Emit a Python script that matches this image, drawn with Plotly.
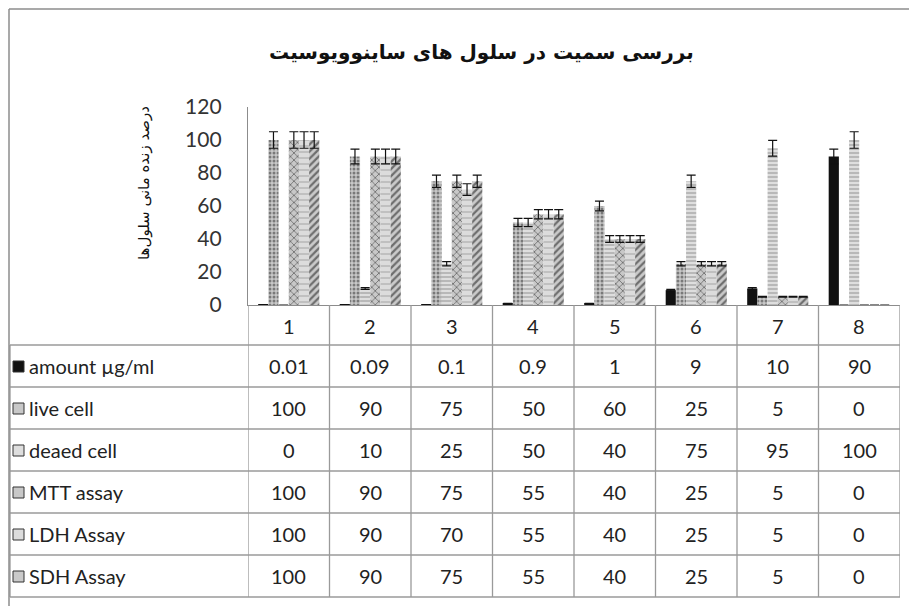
import plotly.graph_objects as go

categories = [1, 2, 3, 4, 5, 6, 7, 8]
series_names = ["amount µg/ml", "live cell", "deaed cell", "MTT assay", "LDH Assay", "SDH Assay"]
amount = [0.01, 0.09, 0.1, 0.9, 1, 9, 10, 90]
live_cell = [100, 90, 75, 50, 60, 25, 5, 0]
dead_cell = [0, 10, 25, 50, 40, 75, 95, 100]
mtt_assay = [100, 90, 75, 55, 40, 25, 5, 0]
ldh_assay = [100, 90, 70, 55, 40, 25, 5, 0]
sdh_assay = [100, 90, 75, 55, 40, 25, 5, 0]
amount_labels = ["0.01", "0.09", "0.1", "0.9", "1", "9", "10", "90"]
y_ticks = [0, 20, 40, 60, 80, 100, 120]
title_text = "بررسی سمیت در سلول های ساینوویوسیت"
y_title = "درصد زنده مانی سلول‌ها"

series_values = [amount, live_cell, dead_cell, mtt_assay, ldh_assay, sdh_assay]
styles = [
    dict(color="#111111", pattern=dict(shape="")),
    dict(color="#c8c8c8", pattern=dict(shape=".", fgcolor="#2a2a2a", size=4, solidity=0.45)),
    dict(color="#dedede", pattern=dict(shape="-", fgcolor="#6e6e6e", size=4, solidity=0.35)),
    dict(color="#c8c8c8", pattern=dict(shape="x", fgcolor="#111111", size=5, solidity=0.3)),
    dict(color="#dcdcdc", pattern=dict(shape="-", fgcolor="#808080", size=6, solidity=0.2)),
    dict(color="#cacaca", pattern=dict(shape="/", fgcolor="#111111", size=5, solidity=0.45)),
]

OFF = 8  # page body margin
W, H = 901, 598
L, R, T, B = 240, 9, 99, 301
PW = W - L - R
PH = H - T - B
FONT = "Lato, Open Sans, sans-serif"


def px_x(px):
    return (px - OFF - L) / PW


def px_y(py):
    return (H - B - (py - OFF)) / PH


fig = go.Figure()
for name, vals, st in zip(series_names, series_values, styles):
    fig.add_trace(go.Bar(
        x=categories, y=vals, name=name,
        marker=dict(color=st["color"], pattern=st["pattern"], line=dict(width=0)),
        error_y=dict(type="percent", value=5, color="#111111", thickness=1.2, width=4.5),
    ))

shapes = []
annotations = []
grid = "#9a9a9a"

row_lines = [345, 387, 429, 471, 513, 555, 597]
for py in row_lines:
    shapes.append(dict(type="line", xref="paper", yref="paper",
                       x0=px_x(10), x1=1, y0=px_y(py), y1=px_y(py),
                       line=dict(color=grid, width=1.3)))
shapes.append(dict(type="line", xref="paper", yref="paper",
                   x0=px_x(10), x1=px_x(10), y0=px_y(345), y1=px_y(597),
                   line=dict(color=grid, width=1.3)))
for k in range(len(categories) + 1):
    xv = 0.5 + k
    shapes.append(dict(type="line", xref="x", yref="paper",
                       x0=xv, x1=xv, y0=px_y(305), y1=px_y(597),
                       line=dict(color=grid, width=1.3)))
# outer chart border (left + top)
shapes.append(dict(type="line", xref="paper", yref="paper",
                   x0=px_x(9), x1=px_x(9), y0=px_y(9), y1=px_y(620),
                   line=dict(color="#8c8c8c", width=1.5)))
shapes.append(dict(type="line", xref="paper", yref="paper",
                   x0=px_x(9), x1=px_x(930), y0=px_y(9), y1=px_y(9),
                   line=dict(color="#8c8c8c", width=1.5)))

for c in categories:
    annotations.append(dict(x=c, y=px_y(326), xref="x", yref="paper", text=str(c),
                            xanchor="center", yanchor="middle", showarrow=False,
                            font=dict(size=20, color="#222", family=FONT)))

row_centers = [366, 408, 450, 492, 534, 576]
row_texts = [amount_labels] + [[str(v) for v in s] for s in series_values[1:]]
for r, (name, texts, st) in enumerate(zip(series_names, row_texts, styles)):
    yc = px_y(row_centers[r])
    annotations.append(dict(x=px_x(27), y=yc, xref="paper", yref="paper", text=name,
                            xanchor="left", yanchor="middle", showarrow=False,
                            font=dict(size=20, color="#222", family=FONT)))
    for c, t in zip(categories, texts):
        annotations.append(dict(x=c, y=yc, xref="x", yref="paper", text=t,
                                xanchor="center", yanchor="middle", showarrow=False,
                                font=dict(size=20, color="#222", family=FONT)))
    shapes.append(dict(type="rect", xref="paper", yref="paper",
                       x0=px_x(13), x1=px_x(24), y0=px_y(row_centers[r] - 5), y1=px_y(row_centers[r] + 6),
                       fillcolor=st["color"] if r > 0 else "#111111",
                       line=dict(color="#333333", width=1)))

annotations.append(dict(x=px_x(481), y=px_y(52), xref="paper", yref="paper",
                        text="<b>" + title_text + "</b>",
                        xanchor="center", yanchor="middle", showarrow=False,
                        font=dict(size=20, color="#111", family="DejaVu Sans")))
annotations.append(dict(x=px_x(144), y=px_y(183), xref="paper", yref="paper", text=y_title,
                        xanchor="center", yanchor="middle", showarrow=False, textangle=-90,
                        font=dict(size=15, color="#111", family="DejaVu Sans")))

fig.update_layout(
    width=W, height=H,
    margin=dict(l=L, r=R, t=T, b=B, pad=0),
    paper_bgcolor="white", plot_bgcolor="white",
    barmode="group", bargap=0.25, bargroupgap=0,
    showlegend=False,
    shapes=shapes, annotations=annotations,
    xaxis=dict(range=[0.5, 8.5], showticklabels=False, showgrid=False, zeroline=False,
               showline=True, linecolor="#8c8c8c", linewidth=1.3, ticks=""),
    yaxis=dict(range=[0, 120], tickvals=y_ticks, showgrid=False, zeroline=False,
               showline=True, linecolor="#8c8c8c", linewidth=1.3, ticks="",
               ticklabelstandoff=21,
               tickfont=dict(size=21, color="#333", family=FONT)),
)

fig.write_html("out.html")
